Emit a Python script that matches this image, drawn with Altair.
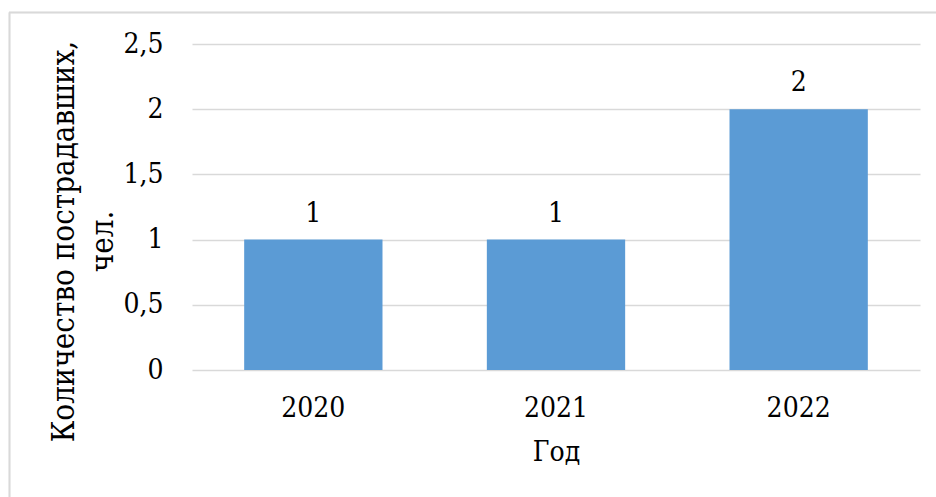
import altair as alt
import pandas as pd

years = ["2020", "2021", "2022"]
victims = [1, 1, 2]

df = pd.DataFrame({"year": years, "value": victims})

FONT = "DejaVu Serif Condensed, DejaVu Serif, serif"
FS = 28

x_enc = alt.X("year:N", sort=years,
              scale=alt.Scale(paddingInner=0.43, paddingOuter=0.215),
              axis=alt.Axis(title="Год", labelAngle=0, domain=False, ticks=False, tickSize=0,
                            labelPadding=24, titleBaseline="alphabetic", titleY=90))
y_enc = alt.Y("value:Q",
              scale=alt.Scale(domain=[0, 2.5], nice=False),
              axis=alt.Axis(title=["Количество пострадавших,", "чел."],
                            values=[0, 0.5, 1, 1.5, 2, 2.5],
                            labelExpr="replace(format(datum.value, ''), '.', ',')",
                            domain=False, ticks=False, tickSize=0, labelPadding=29,
                            grid=True, gridColor="#D9D9D9", gridWidth=1.3,
                            titleFontSize=31, titleLineHeight=39,
                            titleBaseline="middle", titleX=-128, titleY=197))

base = alt.Chart(df).encode(x=x_enc, y=y_enc)

bars = base.mark_bar(color="#5B9BD5")
labels = base.mark_text(font=FONT, fontSize=FS, color="#000000",
                        baseline="alphabetic", dy=-18).encode(text="value:Q")

border_left = alt.Chart(df).mark_rule(color="#D9D9D9", strokeWidth=1.5).encode(
    x=alt.value(-182.5), y=alt.value(-31.5), y2=alt.value(470))
border_top = alt.Chart(df).mark_rule(color="#D9D9D9", strokeWidth=1.5).encode(
    x=alt.value(-183), x2=alt.value(760), y=alt.value(-31.5))

chart = alt.layer(bars, labels, border_left, border_top).properties(
    width=728, height=326,
    autosize=alt.AutoSizeParams(type="none"),
    padding={"left": 192, "top": 44, "right": 16, "bottom": 127},
    background="#FFFFFF",
).configure_view(stroke=None).configure_axis(
    labelFont=FONT, labelFontSize=FS, labelColor="#000000",
    titleFont=FONT, titleFontSize=FS, titleFontWeight="normal", titleColor="#000000",
).configure_text(font=FONT)

chart.save("out.html", embed_options={"renderer": "svg", "actions": False})
